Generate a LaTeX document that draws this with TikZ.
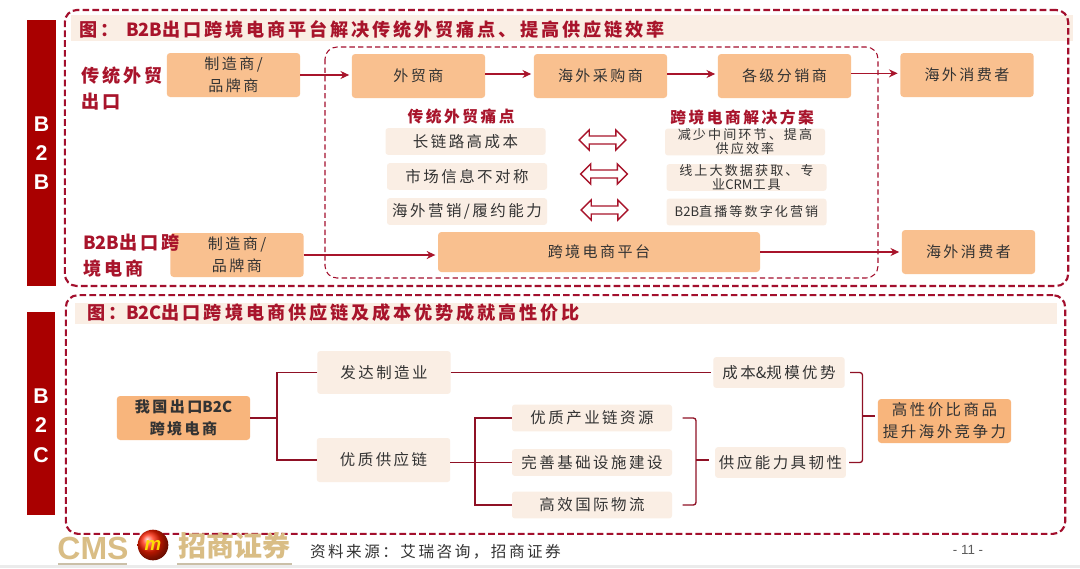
\documentclass[tikz,border=0pt]{standalone}
\usepackage{fontspec}
\setmainfont{Liberation Sans}
\newfontfamily\cjk[LetterSpace=16]{Noto Sans CJK SC}
\newfontfamily\cjkplain{Noto Sans CJK SC}
\usetikzlibrary{arrows.meta, positioning, shapes.arrows, calc}
\definecolor{barred}{HTML}{A90000}
\definecolor{dashred}{HTML}{A30F2D}
\definecolor{headred}{HTML}{A8142B}
\definecolor{orangebox}{HTML}{F9C08F}
\definecolor{orangedeep}{HTML}{F8B57C}
\definecolor{paleb}{HTML}{FAEEE4}
\definecolor{inktext}{HTML}{333333}
\definecolor{logotan}{HTML}{D9BD85}
\newcommand{\lat}[1]{{\cjkplain #1}}

\begin{document}
\begin{tikzpicture}[
    x=0.75pt, y=-0.75pt,
    every node/.style={inner sep=0pt, outer sep=0pt},
    obox/.style={fill=orangebox, rounded corners=2.5pt, minimum width=100pt, minimum height=33pt, align=center, font=\fontsize{11.3}{16.5}\cjk, text=inktext},
    pbox/.style={fill=paleb, rounded corners=2pt, minimum width=120pt, minimum height=20pt, align=center, font=\fontsize{11.6}{13}\cjk, text=inktext},
    sbox/.style={pbox, font=\fontsize{9.8}{10.5}\cjk},
    bar/.style={fill=barred, text=white, align=center, font=\fontsize{16}{22}\bfseries},
    head/.style={font=\fontsize{13.6}{19.5}\bfseries\cjk, text=headred, align=left},
    subhead/.style={font=\fontsize{11.8}{13}\bfseries\cjk, text=headred},
    frame/.style={draw=dashred, line width=1.6pt, dash pattern=on 5pt off 2.4pt, rounded corners=9pt},
    arr/.style={-{Stealth[length=6.5pt, width=6pt]}, draw=headred, line width=1pt, shorten >=2pt},
    lnk/.style={draw=headred!85!black, line width=1pt},
    swap/.style={double arrow, draw=headred, fill=white, line width=1pt, minimum width=15pt, minimum height=35pt, double arrow head extend=3pt, inner sep=1.5pt}
]
    \useasboundingbox (0,0) rectangle (1080,568);
    \fill[white] (0,0) rectangle (1080,568);
    \fill[black!8] (0,565) rectangle (1080,568);

    % --- Side bars and title strips ---
    \node[bar, minimum width=21.75pt, minimum height=199.5pt] (barb2b) at (41.5,153) {B\\2\\B};
    \node[bar, minimum width=21pt, minimum height=152pt] (barb2c) at (41,413.5) {};
    \node[bar, fill=none] (barb2ctext) at (41,425.5) {B\\2\\C};
    \node[fill=paleb, minimum width=752pt, minimum height=19.5pt] (stripa) at (572,28) {};
    \node[fill=paleb, minimum width=737pt, minimum height=16pt] (stripb) at (566,313.5) {};
    \node[head, anchor=west] (titlea) at (79,29.5) {图：\hspace{6pt}\lat{B2B}出口跨境电商平台解决传统外贸痛点、提高供应链效率};
    \node[head, anchor=west] (titleb) at (87,313) {图：\lat{B2C}出口跨境电商供应链及成本优势成就高性价比};

    % --- Dashed frames ---
    \node[frame, minimum width=752.5pt, minimum height=207pt] (framea) at (566.5,148) {};
    \node[frame, minimum width=749.5pt, minimum height=179pt] (frameb) at (565.5,414.5) {};
    \draw[draw=dashred, line width=0.8pt, dash pattern=on 4pt off 2.4pt, rounded corners=9pt] (325,47) rectangle (878,278);

    % --- Row 1: traditional chain ---
    \node[obox] (maker) at (233.5,75) {制造商/\\品牌商};
    \node[head, anchor=west] (lbla) at (81,88) {传统外贸\\出口};
    \node[obox] (trader) at (418.5,76) {外贸商};
    \node[obox] (buyer) at (600.5,76) {海外采购商};
    \node[obox] (dealer) at (784.5,76) {各级分销商};
    \node[obox] (buyerend) at (967,75) {海外消费者};
    \draw[arr] (maker.east) -- (maker.east -| trader.west);
    \draw[arr] ([yshift=1.5pt]trader.east) -- ([yshift=1.5pt]buyer.west);
    \draw[arr] ([yshift=1.5pt]buyer.east) -- ([yshift=1.5pt]dealer.west);
    \draw[arr] ([yshift=2pt]dealer.east) -- ([yshift=2pt]dealer.east -| buyerend.west);

    % --- Middle block: pain points against solutions ---
    \node[subhead] (painhead) at (461,117) {传统外贸痛点};
    \node[subhead] (solhead) at (742,117) {跨境电商解决方案};
    \node[pbox] (paina) at (465.5,141.5) {长链路高成本};
    \node[pbox] (painb) at (467,176.5) {市场信息不对称};
    \node[pbox] (painc) at (467,211.5) {海外营销/履约能力};
    \node[sbox] (sola) at (745,142) {减少中间环节、提高\\供应效率};
    \node[sbox] (solb) at (746.5,177.5) {线上大数据获取、专\\业\lat{CRM}工具};
    \node[sbox] (solc) at (746.5,212) {\lat{B2B}直播等数字化营销};
    \node[swap] (swapa) at (602.5,140) {};
    \node[swap] (swapb) at (604,174) {};
    \node[swap] (swapc) at (604.5,210) {};

    % --- Row 2: platform chain ---
    \node[obox] (makerb) at (237,255) {制造商/\\品牌商};
    \node[head, anchor=west] (lblb) at (83,255.5) {\lat{B2B}出口跨\\境电商};
    \node[obox, minimum width=241.5pt, minimum height=30pt] (platform) at (599,252) {跨境电商平台};
    \node[obox] (buyerendb) at (968.5,252) {海外消费者};
    \draw[arr] (makerb.east) -- (makerb.east -| platform.west);
    \draw[arr] (platform.east) -- (buyerendb.west);

    % --- B2C tree ---
    \node[obox, fill=orangedeep, font=\fontsize{11.3}{16.5}\bfseries\cjk] (origin) at (183.5,418) {我国出口\lat{B2C}\\跨境电商};
    \node[pbox, minimum width=100pt, minimum height=32pt] (mfg) at (384,372.5) {发达制造业};
    \node[pbox, minimum width=100pt, minimum height=33pt] (chain) at (383.5,460) {优质供应链};
    \node[pbox] (res) at (592,418) {优质产业链资源};
    \node[pbox] (infra) at (592,462.5) {完善基础设施建设};
    \node[pbox] (logi) at (592,505) {高效国际物流};
    \node[pbox, minimum width=98.5pt, minimum height=23pt] (scale) at (779,372.5) {成本\lat{\&}规模优势};
    \node[pbox, minimum width=98pt, minimum height=23pt] (resil) at (780.5,462.5) {供应能力具韧性};
    \node[obox, fill=orangedeep, font=\fontsize{11.6}{16.5}\cjk] (value) at (944.5,421) {高性价比商品\\提升海外竞争力};

    \coordinate (spinea) at (277,418);
    \draw[lnk] (origin.east) -- (spinea);
    \draw[lnk] (mfg.west) -| (spinea) |- (chain.west);
    \draw[lnk] (mfg.east) -- ([xshift=-2pt]scale.west);
    \coordinate (spineb) at (475,462.5);
    \draw[lnk] (chain.east |- infra.west) -- (infra.west);
    \draw[lnk] (res.west) -| (spineb) |- (logi.west);

    % --- Brackets ---
    \coordinate (brka) at (696,460);
    \draw[lnk, rounded corners=2pt] ([xshift=8pt]res.east) -| (brka) |- ([xshift=8pt]logi.east);
    \draw[lnk] (brka) -- ([xshift=-4.5pt]brka -| resil.west);
    \coordinate (brkb) at (862.5,416);
    \draw[lnk, rounded corners=2pt] ([xshift=4pt]scale.east) -| (brkb) |- ([xshift=2.5pt]resil.east);
    \draw[lnk] (brkb) -- ([xshift=-2pt]brkb -| value.west);

    % --- Footer ---
    \node[font=\fontsize{24}{24}\bfseries, text=logotan] (logocms) at (93,548) {CMS};
    \node[circle, ball color=red!75!orange, minimum size=23pt, font=\fontsize{14}{14}\bfseries\itshape, text=yellow!80!orange] (logocoin) at (153,545) {m};
    \node[font=\fontsize{21}{21}\bfseries\cjkplain, text=logotan] (logoname) at (234,546) {招商证券};
    \draw[logotan!60!gray!70, line width=0.8pt] (58,564) -- (127,564) (177,564) -- (292,564);
    \node[anchor=west, font=\fontsize{11.7}{14}\cjk, text=inktext] (source) at (310,552) {资料来源：艾瑞咨询，招商证券};
    \node[font=\fontsize{11}{12}, text=inktext!80] (pageno) at (968,550) {- 11 -};
\end{tikzpicture}
\end{document}
